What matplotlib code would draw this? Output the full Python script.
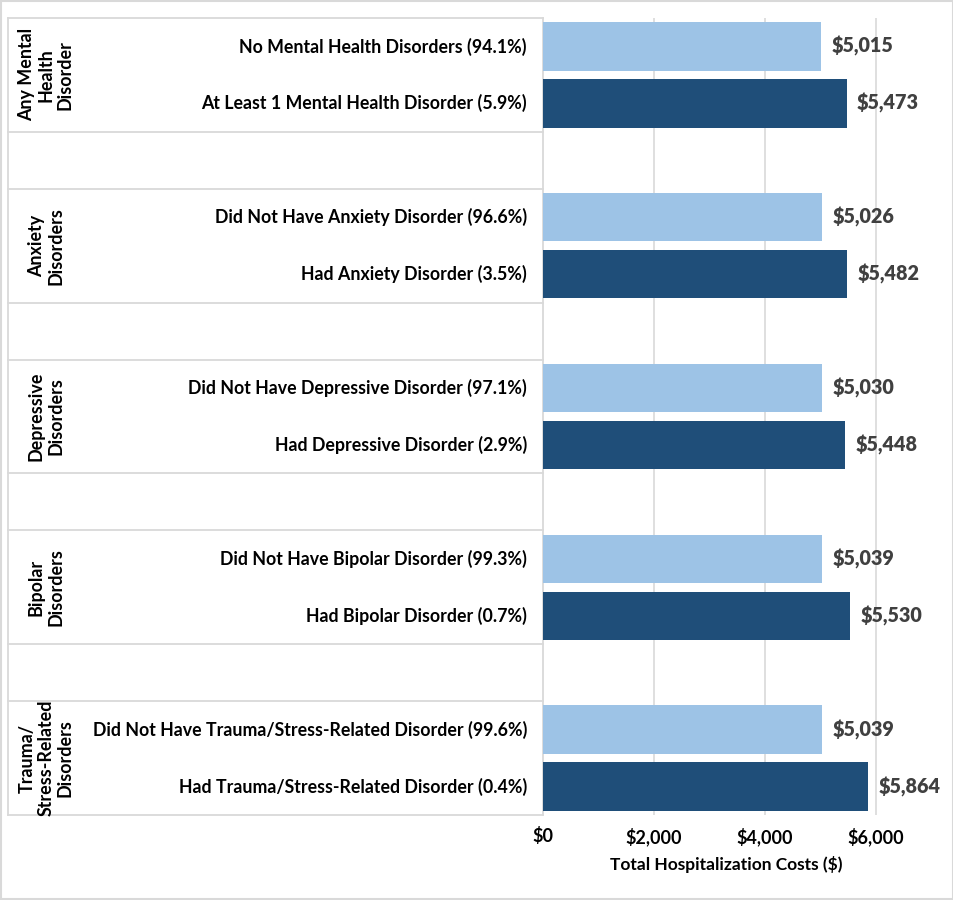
import matplotlib
matplotlib.use("Agg")
import matplotlib.pyplot as plt
import matplotlib.transforms as mtransforms
from matplotlib.patches import Rectangle

plt.rcParams['font.family'] = ['Lato', 'DejaVu Sans']

groups = ["Any Mental\nHealth\nDisorder", "Anxiety\nDisorders", "Depressive\nDisorders",
          "Bipolar\nDisorders", "Trauma/\nStress-Related\nDisorders"]
categories = [
    ["No Mental Health Disorders (94.1%)", "At Least 1 Mental Health Disorder (5.9%)"],
    ["Did Not Have Anxiety Disorder (96.6%)", "Had Anxiety Disorder (3.5%)"],
    ["Did Not Have Depressive Disorder (97.1%)", "Had Depressive Disorder (2.9%)"],
    ["Did Not Have Bipolar Disorder (99.3%)", "Had Bipolar Disorder (0.7%)"],
    ["Did Not Have Trauma/Stress-Related Disorder (99.6%)", "Had Trauma/Stress-Related Disorder (0.4%)"],
]
values_without = [5015, 5026, 5030, 5039, 5039]
values_with = [5473, 5482, 5448, 5530, 5864]
xticks = [0, 2000, 4000, 6000]
xtick_labels = ["$0", "$2,000", "$4,000", "$6,000"]
xlabel = "Total Hospitalization Costs ($)"

light = "#9DC3E6"
dark = "#1F4E79"
grid_c = "#D9D9D9"
line_c = "#D9D9D9"

W, H = 954, 900
fig = plt.figure(figsize=(W / 100, H / 100), dpi=100)
x0, x1 = 543, 909
y0, y1 = 18, 815
ax = fig.add_axes([x0 / W, 1 - y1 / H, (x1 - x0) / W, (y1 - y0) / H])

ng = len(groups)
nslots = ng * 3 - 1
ax.set_ylim(nslots - 0.5, -0.5)
ax.set_xlim(0, 6600)

for i in range(ng):
    p0 = i * 3
    ax.barh(p0, values_without[i], height=0.85, color=light, zorder=3)
    ax.barh(p0 + 1, values_with[i], height=0.85, color=dark, zorder=3)
    for p, v in ((p0, values_without[i]), (p0 + 1, values_with[i])):
        ax.annotate(f"${v:,}", xy=(v, p), xytext=(7.5, 0), textcoords="offset points",
                    ha="left", va="center", fontsize=14.2, fontweight="heavy", color="#404040")

for t in xticks[1:]:
    ax.axvline(t, color=grid_c, lw=1.2, zorder=1)

ax.set_xticks(xticks)
ax.set_xticklabels(xtick_labels, fontsize=13, fontweight="bold")
ax.tick_params(axis="x", length=0, pad=9)
ax.set_yticks([])
for s in ax.spines.values():
    s.set_visible(False)
ax.set_xlabel(xlabel, fontsize=12.5, fontweight="bold", labelpad=7)

# table on the left
bt = mtransforms.blended_transform_factory(ax.transAxes, ax.transData)
left_fx = (8 - x0) / (x1 - x0)
cat_fx = (527 - x0) / (x1 - x0)
grp_fx = (46 - x0) / (x1 - x0)
for i in range(ng):
    p0 = i * 3
    top, bot = p0 - 0.5, p0 + 1.5
    for yy in (top, bot):
        ax.plot([left_fx, 0], [yy, yy], transform=bt, color=line_c, lw=1.3, clip_on=False)
    ax.text(cat_fx, p0, categories[i][0], transform=bt, ha="right", va="center",
            fontsize=12.8, fontweight="bold", color="black")
    ax.text(cat_fx, p0 + 1, categories[i][1], transform=bt, ha="right", va="center",
            fontsize=12.8, fontweight="bold", color="black")
    ax.text(grp_fx, p0 + 0.5, groups[i], transform=bt, ha="center", va="center",
            rotation=90, multialignment="center", fontsize=12.9, fontweight="bold",
            color="black", linespacing=1.15)

for fx in (left_fx, 0):
    ax.plot([fx, fx], [0, 1], transform=ax.transAxes, color=line_c, lw=1.3, clip_on=False)

fig.patches.append(Rectangle((0.001, 0.001), 0.998, 0.998, transform=fig.transFigure,
                             fill=False, edgecolor="#D9D9D9", lw=1.5))

fig.savefig("out.png", dpi=100)
